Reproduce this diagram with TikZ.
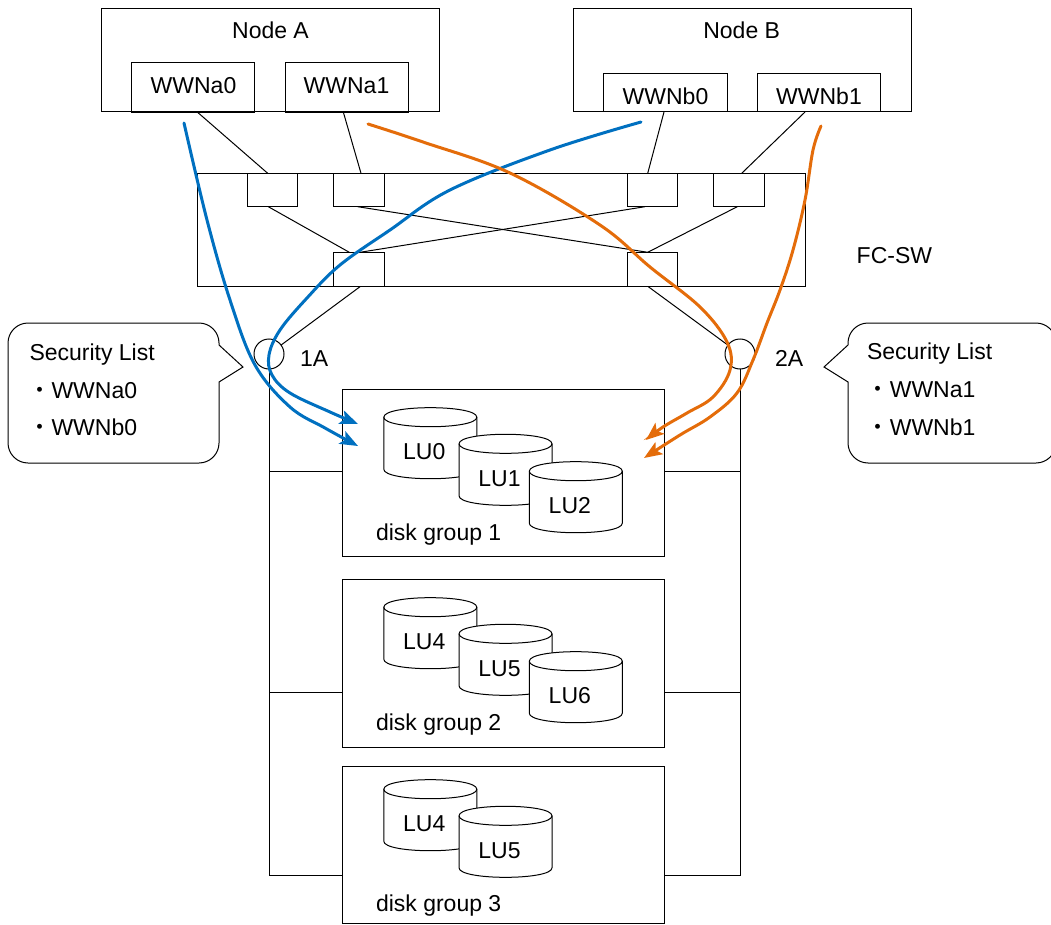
\documentclass[tikz,border=0pt]{standalone}
\usepackage{fontspec}
\setmainfont{Liberation Sans}
\newfontfamily\cjkfont{Noto Sans CJK JP}
\usetikzlibrary{arrows.meta,calc}
\definecolor{pblue}{RGB}{0,112,192}
\definecolor{porange}{RGB}{228,108,10}
\begin{document}
\begin{tikzpicture}[x=1pt,y=-1pt, line width=1pt, font=\fontsize{23}{27}\selectfont,
  bx/.style 2 args={draw, rectangle, minimum width=#1pt, minimum height=#2pt, inner sep=0pt, outer sep=0pt},
  txt/.style={inner sep=0pt, outer sep=0pt},
  hba/.style={circle, draw, minimum size=30pt, inner sep=0pt, outer sep=0pt},
  flowb/.style={draw=pblue, line width=3pt, line cap=round, -{Stealth[length=18pt,width=14pt,inset=4pt]}},
  flowo/.style={draw=porange, line width=3pt, line cap=round, -{Stealth[length=18pt,width=14pt,inset=4pt]}},
  cyl/.pic={
    \filldraw[fill=white] (-46.5,0) -- (-46.5,52) .. controls (-46.5,64.7) and (46.5,64.7) .. (46.5,52)
      -- (46.5,0) .. controls (46.5,-12.7) and (-46.5,-12.7) .. (-46.5,0) -- cycle;
    \draw (-46.5,0) .. controls (-46.5,12.7) and (46.5,12.7) .. (46.5,0);
    \node[txt, anchor=base] (-t) at (-6,42.5) {#1};
  }]
\useasboundingbox (0,0) rectangle (1051,925);

% hosts
\node[bx={338}{103}] (nA) at (270,60.5) {};
\node[txt, anchor=base] (tA) at (270.5,38.3) {Node A};
\node[bx={123.3}{49.7}] (wa0) at (193.3,87.2) {};
\node[txt, anchor=base] at (193.5,93.3) {WWNa0};
\node[bx={123.4}{49.7}] (wa1) at (347,87.2) {};
\node[txt, anchor=base] at (346.5,93.3) {WWNa1};

\node[bx={338.4}{103}] (nB) at (742.5,60.5) {};
\node[txt, anchor=base] (tB) at (741.7,38.3) {Node B};
\node[bx={124.3}{38}] (wb0) at (665.2,93) {};
\node[txt, anchor=base] at (665.5,105) {WWNb0};
\node[bx={122.7}{38}] (wb1) at (819.3,93) {};
\node[txt, anchor=base] at (819,105) {WWNb1};

% switch
\node[bx={608}{113.4}] (sw) at (501.3,230) {};
\node[txt, anchor=base west] (tsw) at (856.7,263.3) {FC-SW};
\node[bx={50}{33.4}] (p1) at (272.3,190) {};
\node[bx={51.3}{33.4}] (p2) at (358.7,190) {};
\node[bx={50}{33.4}] (p3) at (652.3,190) {};
\node[bx={51.3}{33.4}] (p4) at (738.7,190) {};
\node[bx={51.3}{34.4}] (q1) at (358.7,269.5) {};
\node[bx={50}{34.4}] (q2) at (652.3,269.5) {};

\draw ([xshift=4pt]wa0.south) -- ([xshift=-4.6pt]p1.north);
\draw ([xshift=-3.7pt]wa1.south) -- ([xshift=2.3pt]p2.north);
\draw ([xshift=-1.2pt]wb0.south) -- ([xshift=-4.6pt]p3.north);
\draw ([xshift=-14.3pt]wb1.south) -- ([xshift=3pt]p4.north);
\draw ([xshift=-4pt]p1.south) -- ([xshift=-9.4pt]q1.north);
\draw ([xshift=-1pt]p2.south) -- ([xshift=-4.6pt]q2.north);
\draw ([xshift=-7.3pt]p3.south) -- ([xshift=1.3pt]q1.north);
\draw ([xshift=-1.4pt]p4.south) -- ([xshift=-4.6pt]q2.north);

% storage ports
\node[hba] (c1) at (269,354) {};
\node[txt, anchor=base west] (t1A) at (300,366.7) {1A};
\node[hba] (c2) at (740,354) {};
\node[txt, anchor=base west] (t2A) at (775,366.7) {2A};
\draw ([xshift=1.3pt]q1.south) -- (c1);
\draw ([xshift=-4pt]q2.south) -- (c2);

% disk groups
\node[bx={321.7}{166.7}] (g1) at (503.8,473.3) {};
\node[bx={321.7}{168.3}] (g2) at (503.8,663.2) {};
\node[bx={321.7}{156.7}] (g3) at (503.8,844.7) {};

\coordinate (L1) at (269,471);
\coordinate (L2) at (269,692);
\coordinate (L3) at (269,875);
\coordinate (R1) at (740,471);
\coordinate (R2) at (740,692);
\coordinate (R3) at (740,875);
\draw (c1.south) -- (L3) -- (L3 -| g3.west);
\draw (L1) -- (L1 -| g1.west);
\draw (L2) -- (L2 -| g2.west);
\draw (c2.south) -- (R3) -- (R3 -| g3.east);
\draw (R1) -- (R1 -| g1.east);
\draw (R2) -- (R2 -| g2.east);

\pic (lu0) at (430.3,417.2) {cyl=LU0};
\pic (lu1) at (505.5,443.8) {cyl=LU1};
\pic (lu2) at (575.8,471.2) {cyl=LU2};
\node[txt, anchor=base west] (dg1) at (376,540) {disk group 1};

\pic (lu4) at (430.3,607.2) {cyl=LU4};
\pic (lu5) at (505.5,633.8) {cyl=LU5};
\pic (lu6) at (575.8,661.2) {cyl=LU6};
\node[txt, anchor=base west] (dg2) at (376,730) {disk group 2};

\pic (lu4b) at (430.3,789.2) {cyl=LU4};
\pic (lu5b) at (505.5,815.8) {cyl=LU5};
\node[txt, anchor=base west] (dg3) at (376,911.7) {disk group 3};

% callouts
\draw (219,345) -- (243,367) -- (219,382) -- (219,443)
  .. controls (219,454) and (210,463) .. (199,463) -- (28,463)
  .. controls (17,463) and (8,454) .. (8,443) -- (8,343)
  .. controls (8,332) and (17,323) .. (28,323) -- (199,323)
  .. controls (210,323) and (219,332) .. (219,343) -- cycle;
\node[txt, anchor=base west] (sl1) at (29.5,360) {Security List};
\node[txt, anchor=base west] (sl1a) at (28.5,398.3) {{\cjkfont ・}WWNa0};
\node[txt, anchor=base west] (sl1b) at (28.5,435) {{\cjkfont ・}WWNb0};

\draw (848,345) -- (824,367) -- (848,382) -- (848,443)
  .. controls (848,454) and (857,463) .. (868,463) -- (1036,463)
  .. controls (1047,463) and (1056,454) .. (1056,443) -- (1056,343)
  .. controls (1056,332) and (1047,323) .. (1036,323) -- (868,323)
  .. controls (857,323) and (848,332) .. (848,343) -- cycle;
\node[txt, anchor=base west] (sl2) at (867,359.3) {Security List};
\node[txt, anchor=base west] (sl2a) at (866.8,397.3) {{\cjkfont ・}WWNa1};
\node[txt, anchor=base west] (sl2b) at (866.8,435) {{\cjkfont ・}WWNb1};

% flows
\coordinate (b1s) at (184,123);
\coordinate (b1e) at (358,446);
\coordinate (b2s) at (641,122);
\coordinate (b2e) at (358,424);
\coordinate (o1s) at (368,124);
\coordinate (o1e) at (646,440);
\coordinate (o2s) at (821,126);
\coordinate (o2e) at (644,458);

\draw[flowb] plot[smooth, tension=0.6] coordinates {(b1s) (207,220) (230,300) (255,365) (290,407) (325,428) (b1e)};
\draw[flowb] plot[smooth, tension=0.6] coordinates {(b2s) (550,150) (450,190) (390,230) (340,265) (307,298) (280,330) (269,355) (272,375) (290,393) (330,412) (b2e)};
\draw[flowo] plot[smooth, tension=0.6] coordinates {(o1s) (423,142) (510,173) (600,225) (650,267) (700,307) (727,342) (730,370) (713,397) (687,413) (663,427) (o1e)};
\draw[flowo] plot[smooth, tension=0.6] coordinates {(o2s) (813,150) (805,200) (793,250) (780,290) (767,323) (753,360) (737,393) (710,417) (680,435) (o2e)};
\end{tikzpicture}
\end{document}
